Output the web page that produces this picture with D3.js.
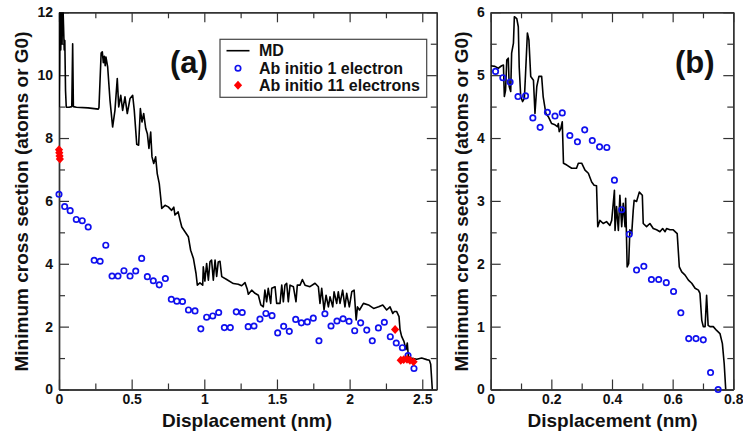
<!DOCTYPE html>
<html><head><meta charset="utf-8">
<script src="https://cdn.jsdelivr.net/npm/d3@7/dist/d3.min.js"></script>
<style>
body{margin:0;background:#fff}
svg text{font-family:"Liberation Sans",Arial,Helvetica,sans-serif;font-weight:bold;fill:#111}
</style>
</head><body>
<svg id="chart" width="743" height="435"></svg>
<script>
// ---------- Panel (a) data ----------
const mdA = [[0,8.98],[0.004,10.2],[0.008,12.4],[0.012,10.8],[0.017,12.4],[0.021,11.0],[0.026,12.4],[0.031,11.6],[0.036,10.8],[0.04,11.1],[0.045,9.5],[0.05,8.98],[0.07,8.98],[0.088,9.0],[0.094,11.0],[0.099,9.0],[0.12,8.98],[0.2,8.96],[0.27,8.92],[0.275,8.97],[0.29,10.7],[0.298,10.74],[0.305,10.4],[0.312,10.6],[0.318,10.3],[0.323,10.58],[0.335,10.26],[0.351,9.2],[0.369,8.35],[0.385,8.88],[0.401,9.89],[0.411,8.99],[0.425,9.36],[0.438,8.88],[0.454,9.31],[0.47,8.78],[0.489,9.26],[0.507,9.36],[0.518,8.88],[0.535,7.8],[0.548,7.77],[0.56,8.94],[0.571,8.51],[0.583,8.78],[0.597,8.3],[0.608,8.14],[0.619,7.67],[0.631,8.19],[0.64,7.4],[0.652,7.19],[0.665,7.4],[0.676,6.87],[0.69,6.55],[0.7,6.1],[0.707,5.76],[0.73,5.86],[0.752,5.81],[0.775,5.7],[0.79,5.8],[0.798,5.55],[0.82,5.65],[0.833,5.39],[0.845,5.17],[0.867,5.02],[0.89,4.86],[0.906,4.43],[0.925,4.17],[0.943,3.69],[0.952,3.32],[0.97,3.39],[0.989,3.32],[0.993,3.9],[1.004,3.45],[1.016,4.01],[1.028,3.48],[1.039,4.06],[1.05,4.12],[1.062,3.48],[1.074,4.12],[1.085,3.6],[1.096,4.06],[1.108,4.08],[1.12,3.59],[1.154,3.5],[1.2,3.37],[1.234,3.35],[1.257,3.3],[1.28,3.4],[1.295,3.2],[1.303,3.03],[1.326,3.16],[1.349,3.06],[1.372,3.0],[1.389,2.69],[1.406,2.63],[1.417,3.16],[1.429,2.79],[1.44,3.22],[1.457,2.74],[1.464,3.22],[1.487,3.27],[1.498,2.74],[1.521,2.74],[1.533,3.32],[1.544,2.79],[1.555,3.32],[1.567,3.38],[1.578,2.79],[1.59,3.32],[1.613,3.27],[1.631,2.79],[1.64,3.32],[1.659,3.32],[1.675,3.5],[1.693,3.32],[1.727,3.27],[1.762,3.38],[1.785,3.27],[1.796,2.74],[1.808,3.22],[1.824,2.53],[1.838,3.0],[1.854,2.63],[1.865,2.95],[1.884,2.63],[1.893,3.11],[1.911,2.74],[1.922,3.11],[1.934,2.74],[1.952,3.16],[1.968,2.63],[1.98,3.06],[1.998,2.63],[2.015,3.11],[2.031,3.16],[2.045,2.21],[2.054,2.63],[2.068,2.53],[2.095,2.74],[2.13,2.69],[2.165,2.58],[2.2,2.63],[2.228,2.69],[2.255,2.53],[2.278,2.63],[2.297,2.42],[2.308,2.48],[2.324,2.48],[2.34,2.32],[2.347,1.9],[2.358,1.69],[2.374,1.53],[2.388,1.27],[2.397,1.48],[2.404,1.06],[2.421,1.0],[2.462,0.96],[2.496,1.0],[2.531,0.95],[2.549,0.93],[2.558,0.8],[2.565,0.3],[2.569,0.0]];

const ab1A_x = [0.0,0.039,0.077,0.119,0.160,0.201,0.242,0.283,0.322,0.365,0.406,0.447,0.489,0.528,0.569,0.608,0.649,0.690,0.732,0.773,0.811,0.850,0.891,0.936,0.976,1.016,1.058,1.099,1.138,1.179,1.220,1.261,1.302,1.342,1.383,1.424,1.466,1.505,1.546,1.585,1.629,1.668,1.709,1.750,1.789,1.830,1.872,1.913,1.955,1.996,2.035,2.076,2.118,2.156,2.198,2.239,2.280,2.321,2.363,2.402,2.443];
const ab1A_y = [6.21,5.82,5.69,5.41,5.37,5.17,4.11,4.08,4.59,3.61,3.61,3.78,3.61,3.77,4.17,3.59,3.46,3.33,3.53,2.87,2.81,2.80,2.53,2.50,1.93,2.30,2.34,2.45,1.97,1.97,2.47,2.45,2.00,2.02,2.24,2.42,2.35,1.80,2.01,1.85,2.23,2.12,2.15,2.27,1.55,2.41,2.02,2.18,2.25,2.17,1.87,2.12,1.89,1.55,1.96,2.14,1.68,1.48,1.33,1.08,0.67];

const ab11A_x = [0.0,0.002,0.004,0.006,2.313,2.352,2.372,2.395,2.415,2.44];
const ab11A_y = [7.63,7.53,7.43,7.33,1.91,0.93,0.95,0.96,0.93,0.88];

// ---------- Panel (b) data ----------
const mdB = [[0,5.15],[0.014,5.14],[0.025,5.11],[0.036,5.15],[0.042,5.16],[0.045,4.66],[0.049,4.76],[0.053,5.24],[0.058,5.27],[0.061,4.82],[0.066,4.74],[0.069,5.35],[0.075,5.51],[0.078,5.93],[0.086,5.9],[0.091,5.77],[0.094,5.13],[0.099,4.66],[0.105,4.58],[0.111,4.63],[0.115,5.03],[0.121,5.67],[0.126,5.56],[0.132,4.98],[0.141,4.92],[0.146,4.39],[0.152,4.82],[0.159,4.98],[0.168,4.98],[0.173,4.66],[0.182,4.39],[0.19,4.34],[0.201,4.23],[0.212,4.21],[0.22,4.18],[0.223,4.23],[0.226,4.1],[0.231,4.15],[0.236,4.26],[0.24,3.6],[0.251,3.57],[0.267,3.52],[0.283,3.52],[0.289,3.6],[0.3,3.6],[0.311,3.49],[0.322,3.44],[0.333,3.3],[0.341,3.25],[0.349,3.24],[0.353,2.59],[0.36,2.69],[0.371,2.64],[0.382,2.67],[0.393,2.61],[0.399,2.69],[0.408,3.17],[0.41,2.53],[0.415,2.91],[0.421,2.53],[0.426,3.09],[0.432,2.59],[0.437,2.96],[0.443,2.59],[0.445,3.04],[0.45,1.95],[0.455,2.0],[0.459,2.54],[0.465,2.48],[0.47,2.85],[0.473,3.01],[0.481,2.99],[0.49,3.14],[0.5,3.09],[0.503,2.64],[0.514,2.59],[0.525,2.64],[0.536,2.56],[0.547,2.54],[0.558,2.51],[0.567,2.56],[0.575,2.51],[0.58,2.56],[0.591,2.54],[0.602,2.54],[0.615,2.48],[0.622,1.95],[0.63,1.87],[0.641,1.82],[0.652,1.74],[0.663,1.69],[0.674,1.61],[0.685,1.58],[0.69,1.53],[0.696,1.1],[0.701,1.0],[0.707,1.0],[0.712,1.5],[0.717,1.02],[0.723,1.0],[0.734,1.0],[0.745,0.94],[0.756,0.89],[0.764,0.73],[0.77,0.41],[0.775,0.0]];

const ab1B_x = [0.016,0.040,0.064,0.090,0.115,0.139,0.163,0.187,0.212,0.236,0.261,0.286,0.310,0.335,0.359,0.383,0.408,0.432,0.457,0.481,0.505,0.530,0.554,0.579,0.603,0.627,0.653,0.677,0.701,0.725,0.750];
const ab1B_y = [5.06,4.96,4.89,4.66,4.67,4.32,4.17,4.41,4.35,4.40,4.04,3.94,4.13,3.96,3.86,3.85,3.33,2.86,2.47,1.90,1.96,1.75,1.75,1.70,1.56,1.22,0.81,0.81,0.79,0.27,0.00];

// ---------- Axis ticks & labels ----------
const xMajorA = [0,0.5,1,1.5,2,2.5], xMinorA = [0.25,0.75,1.25,1.75,2.25];
const yMajorA = [0,2,4,6,8,10,12], yMinorA = [1,3,5,7,9,11];
const xMajorB = [0,0.2,0.4,0.6,0.8], xMinorB = [0.1,0.3,0.5,0.7];
const yMajorB = [0,1,2,3,4,5,6], yMinorB = [0.5,1.5,2.5,3.5,4.5,5.5];
const xTitle = "Displacement (nm)";
const yTitle = "Minimum cross section (atoms or G0)";
const legendLabels = ["MD","Ab initio 1 electron","Ab initio 11 electrons"];

const svg = d3.select("#chart");
const AXIS = "#333";
const diamond = d3.symbol().type(d3.symbolSquare).size(34);
const diamondTf = (x,y) => `translate(${x},${y}) scale(1,1.08) rotate(45)`;

function panel(o){
  const xs = d3.scaleLinear().domain(o.xd).range([o.L,o.R]);
  const ys = d3.scaleLinear().domain(o.yd).range([o.B,o.T]);
  const g = svg.append("g");
  const id = "clip"+o.name;
  svg.append("clipPath").attr("id",id).append("rect")
    .attr("x",o.L).attr("y",o.T).attr("width",o.R-o.L).attr("height",o.B-o.T);

  function ax(gen, tr, vals, size, labels){
    const a = gen.tickValues(vals).tickSize(size).tickSizeOuter(0)
      .tickFormat(labels ? (d=>String(d)) : "");
    const s = g.append("g").attr("transform",tr).call(a);
    s.selectAll("line").attr("stroke",AXIS).attr("stroke-width",1.2);
    s.select(".domain").attr("stroke",AXIS).attr("stroke-width",1.4);
    s.selectAll("text").style("font-size","14px").attr("fill","#111");
    return s;
  }
  // minor
  ax(d3.axisBottom(xs), `translate(0,${o.B})`, o.xmin, -6, false);
  ax(d3.axisTop(xs), `translate(0,${o.T})`, o.xmin, -6, false);
  ax(d3.axisLeft(ys), `translate(${o.L},0)`, o.ymin, -6, false);
  ax(d3.axisRight(ys), `translate(${o.R},0)`, o.ymin, -6, false);
  // major
  ax(d3.axisBottom(xs).tickPadding(5), `translate(0,${o.B})`, o.xmaj, -10, true);
  ax(d3.axisTop(xs), `translate(0,${o.T})`, o.xmaj, -10, false);
  ax(d3.axisLeft(ys).tickPadding(6), `translate(${o.L},0)`, o.ymaj, -10, true);
  ax(d3.axisRight(ys), `translate(${o.R},0)`, o.ymaj, -10, false);

  // MD line
  g.append("path").datum(o.md).attr("clip-path",`url(#${id})`)
    .attr("d", d3.line().x(d=>xs(d[0])).y(d=>ys(d[1])))
    .attr("fill","none").attr("stroke","#000").attr("stroke-width",1.6)
    .attr("stroke-linejoin","round");

  // blue circles
  g.selectAll("circle.ab1").data(o.c1x.map((x,i)=>[x,o.c1y[i]])).join("circle")
    .attr("class","ab1").attr("cx",d=>xs(d[0])).attr("cy",d=>ys(d[1])).attr("r",2.7)
    .attr("fill","none").attr("stroke","#1010ee").attr("stroke-width",1.7);

  // red diamonds
  if(o.dx){
    g.selectAll("path.ab11").data(o.dx.map((x,i)=>[x,o.dy[i]])).join("path")
      .attr("class","ab11").attr("d",diamond)
      .attr("transform",d=>diamondTf(xs(d[0]),ys(d[1])))
      .attr("fill","#ff0000");
  }

  // titles
  svg.append("text").attr("x",(o.L+o.R)/2 + o.xtOff).attr("y",427)
    .attr("text-anchor","middle").style("font-size","19px").text(xTitle);
  svg.append("text").attr("transform",`translate(${o.ytX},201.5) rotate(-90)`)
    .attr("text-anchor","middle").style("font-size","19px").text(yTitle);
  svg.append("text").attr("x",o.tagX).attr("y",73).style("font-size","31px").text(o.tag);
  return {xs,ys};
}

panel({name:"a", xd:[0,2.6], yd:[0,12], L:59, R:436.8, T:12.3, B:389.5,
  xmaj:xMajorA, xmin:xMinorA, ymaj:yMajorA, ymin:yMinorA,
  md:mdA, c1x:ab1A_x, c1y:ab1A_y, dx:ab11A_x, dy:ab11A_y,
  xtOff:-0.9, ytX:27.5, tagX:170, tag:"(a)"});

panel({name:"b", xd:[0,0.8], yd:[0,6], L:490.7, R:733.3, T:12.3, B:389.5,
  xmaj:xMajorB, xmin:xMinorB, ymaj:yMajorB, ymin:yMinorB,
  md:mdB, c1x:ab1B_x, c1y:ab1B_y,
  xtOff:0.5, ytX:467.5, tagX:675, tag:"(b)"});

// legend (panel a)
const lg = svg.append("g");
lg.append("rect").attr("x",220).attr("y",39.3).attr("width",206.7).attr("height",58)
  .attr("fill","#fff").attr("stroke","#444").attr("stroke-width",1.2);
const rowY = [50.7, 68.2, 85.2];
lg.append("line").attr("x1",226.5).attr("x2",249.5).attr("y1",rowY[0]).attr("y2",rowY[0])
  .attr("stroke","#000").attr("stroke-width",1.6);
lg.append("circle").attr("cx",238).attr("cy",rowY[1]).attr("r",2.7)
  .attr("fill","none").attr("stroke","#1010ee").attr("stroke-width",1.7);
lg.append("path").attr("d",diamond).attr("transform",diamondTf(238,rowY[2])).attr("fill","#ff0000");
legendLabels.forEach((t,i)=>{
  lg.append("text").attr("x",259).attr("y",rowY[i]+5.7).style("font-size","16px").text(t);
});
</script>
</body></html>
